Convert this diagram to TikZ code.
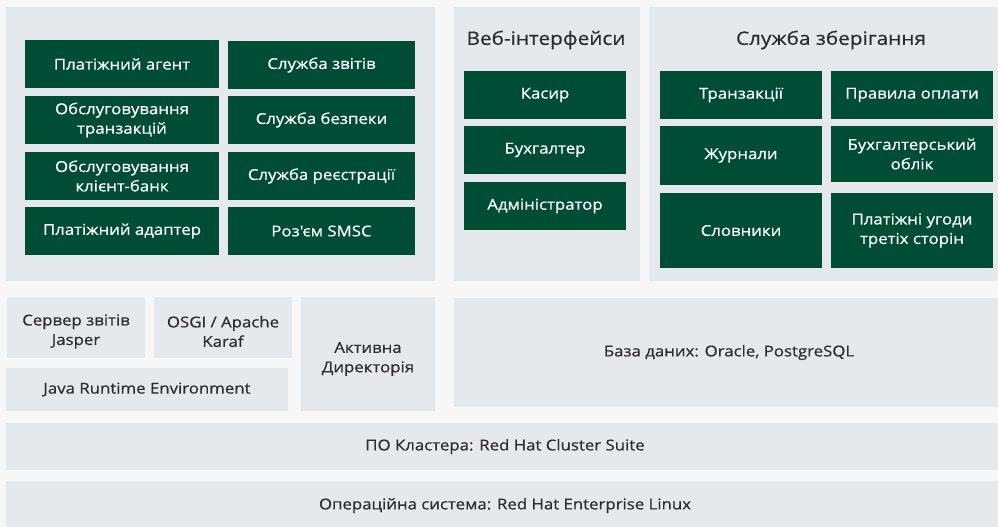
\documentclass[tikz,border=0pt]{standalone}
\usepackage{fontspec}
\setmainfont{Open Sans}
\newfontfamily\boxfont{Open Sans}[FakeBold=0.6,FakeStretch=1.12]
\definecolor{bgc}{HTML}{F7F7F7}
\definecolor{panelc}{HTML}{E6E9EC}
\definecolor{greenc}{HTML}{004D35}
\definecolor{darktext}{HTML}{2E2E2E}
\tikzset{
  panel/.style={fill=panelc, draw=none, inner sep=0pt, align=center, text=darktext, font=\boxfont\fontsize{15}{19.5}\selectfont},
  gbox/.style={fill=greenc, draw=none, inner sep=0pt, align=center, text=white, font=\boxfont\fontsize{15}{19.5}\selectfont},
  ttl/.style={inner sep=0pt, text=darktext, font=\boxfont\fontsize{18.5}{22}\selectfont},
}
\newcommand\mkbox[7]{%
  \node[#6, minimum width={(#4-#2)*1pt}, minimum height={(#5-#3)*1pt}] (#1) at ({(#2+#4)/2},{(#3+#5)/2}) {#7};}
\begin{document}
\begin{tikzpicture}[x=1pt,y=-1pt]
\useasboundingbox (0,0) rectangle (998,527);
\clip (0,0) rectangle (998,527);
\fill[bgc] (0,0) rectangle (998,527);
% top panels
\mkbox{pleft}{6}{7}{435}{281}{panel}{}
\mkbox{pweb}{454}{7}{640}{281}{panel}{}
\mkbox{pstore}{649}{7}{1004}{281}{panel}{}
\node[ttl] (tweb) at (546,40) {Веб-інтерфейси};
\node[ttl] (tstore) at (831,40) {Служба зберігання};
% left panel boxes
\mkbox{a1}{25}{40}{219}{88}{gbox}{Платіжний агент}
\mkbox{a2}{25}{96}{219}{144}{gbox}{Обслуговування\\транзакцій}
\mkbox{a3}{25}{152}{219}{200}{gbox}{Обслуговування\\клієнт-банк}
\mkbox{a4}{25}{207}{219}{255}{gbox}{Платіжний адаптер}
\mkbox{b1}{228}{41}{415}{89}{gbox}{Служба звітів}
\mkbox{b2}{228}{96}{415}{144}{gbox}{Служба безпеки}
\mkbox{b3}{228}{152}{415}{200}{gbox}{Служба реєстрації}
\mkbox{b4}{228}{207}{415}{255}{gbox}{Роз'єм SMSC}
% web boxes
\mkbox{w1}{464}{71}{626}{119}{gbox}{Касир}
\mkbox{w2}{464}{126}{626}{174}{gbox}{Бухгалтер}
\mkbox{w3}{464}{182}{626}{230}{gbox}{Адміністратор}
% storage boxes
\mkbox{s1}{660}{71}{822}{119}{gbox}{Транзакції}
\mkbox{s2}{660}{126}{822}{185}{gbox}{Журнали}
\mkbox{s3}{660}{193}{822}{268}{gbox}{Словники}
\mkbox{t1}{831}{71}{993}{119}{gbox}{Правила оплати}
\mkbox{t2}{831}{126}{993}{182}{gbox}{Бухгалтерський\\облік}
\mkbox{t3}{831}{193}{993}{268}{gbox}{Платіжні угоди\\третіх сторін}
% middle layer
\mkbox{jasper}{7}{297}{145}{358}{panel}{}
\mkbox{osgi}{154}{297}{292}{358}{panel}{}
\mkbox{jre}{6}{368}{288}{411}{panel}{Java Runtime Environment}
\mkbox{ad}{301}{297}{435}{411}{panel}{}
\node[panel, fill=none, yshift=-4pt] (tjasper) at (jasper) {Сервер звітів\\Jasper};
\node[panel, fill=none, yshift=-4pt] (tosgi) at (osgi) {OSGI / Apache\\Karaf};
\node[panel, fill=none, yshift=-5pt] (tad) at (ad) {Активна\\Директорія};
\mkbox{db}{454}{298}{1004}{407}{panel}{База даних: Oracle, PostgreSQL}
% bottom layers
\mkbox{cluster}{6}{423}{1004}{470}{panel}{ПО Кластера: Red Hat Cluster Suite}
\mkbox{os}{6}{481}{1004}{530}{panel}{Операційна система: Red Hat Enterprise Linux}
\end{tikzpicture}
\end{document}
